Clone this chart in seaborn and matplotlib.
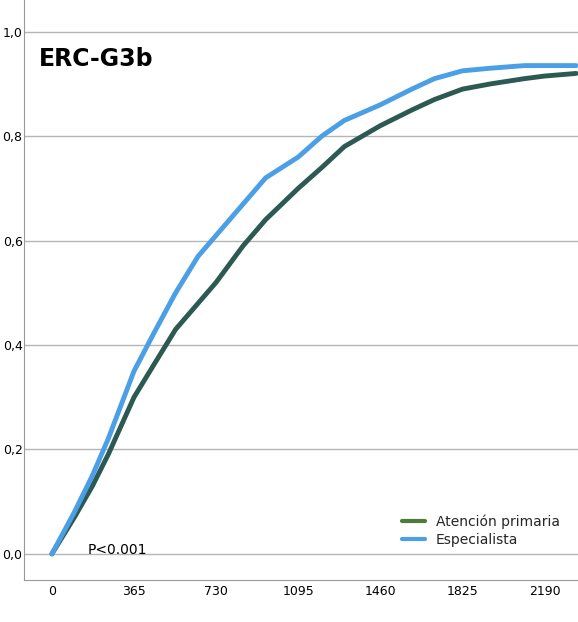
import seaborn as sns
import matplotlib.pyplot as plt
import pandas as pd

sns.set_style("white")
plt.rcParams['font.family'] = ['DejaVu Sans']

# dias de seguimiento y funcion acumulada
dias = [0, 50, 100, 180, 250, 365, 450, 550, 650, 730, 850, 950, 1095, 1200, 1300, 1460, 1600, 1700, 1825, 1950, 2100, 2190, 2330]
primaria = [0.0, 0.035, 0.07, 0.13, 0.19, 0.30, 0.36, 0.43, 0.48, 0.52, 0.59, 0.64, 0.70, 0.74, 0.78, 0.82, 0.85, 0.87, 0.89, 0.90, 0.91, 0.915, 0.92]
especialista = [0.0, 0.04, 0.08, 0.15, 0.22, 0.35, 0.42, 0.50, 0.57, 0.61, 0.67, 0.72, 0.76, 0.80, 0.83, 0.86, 0.89, 0.91, 0.925, 0.93, 0.935, 0.935, 0.935]

df = pd.DataFrame({
    "dias": dias * 2,
    "valor": primaria + especialista,
    "grupo": ["Atención primaria"] * len(dias) + ["Especialista"] * len(dias),
})

fig = plt.figure(figsize=(5.78, 6.22), dpi=100)
ax = fig.add_axes([0.0415, 0.0675, 0.958, 0.932])
sns.lineplot(data=df, x="dias", y="valor", hue="grupo",
             palette={"Atención primaria": "#2C5A52", "Especialista": "#4A9FE6"},
             linewidth=3.5, ax=ax)

ax.set_xlim(-124, 2337)
ax.set_ylim(-0.05, 1.06)
ax.set_xticks([0, 365, 730, 1095, 1460, 1825, 2190])
ax.set_yticks([0, 0.2, 0.4, 0.6, 0.8, 1.0])
ax.set_yticklabels(["0,0", "0,2", "0,4", "0,6", "0,8", "1,0"])
ax.tick_params(labelsize=9, length=0, labelcolor="black")
ax.tick_params(axis="y", pad=1)
ax.yaxis.grid(True, color="#b5b5b5", linewidth=1)
ax.set_xlabel("")
ax.set_ylabel("")
for s in ["top", "right"]:
    ax.spines[s].set_visible(False)
for s in ["left", "bottom"]:
    ax.spines[s].set_color("#999999")

ax.text(-60, 0.935, "ERC-G3b", fontsize=17, fontweight="bold", color="black")
ax.text(160, 0.0, "P<0.001", fontsize=10, color="black")

leg = ax.legend(loc="lower right", bbox_to_anchor=(0.99, 0.035), frameon=False,
                fontsize=10, handlelength=1.6, labelspacing=0.3)
leg.get_lines()[0].set_color("#4E7A3A")
for ln in leg.get_lines():
    ln.set_linewidth(3)

fig.savefig("out.png", dpi=100)
